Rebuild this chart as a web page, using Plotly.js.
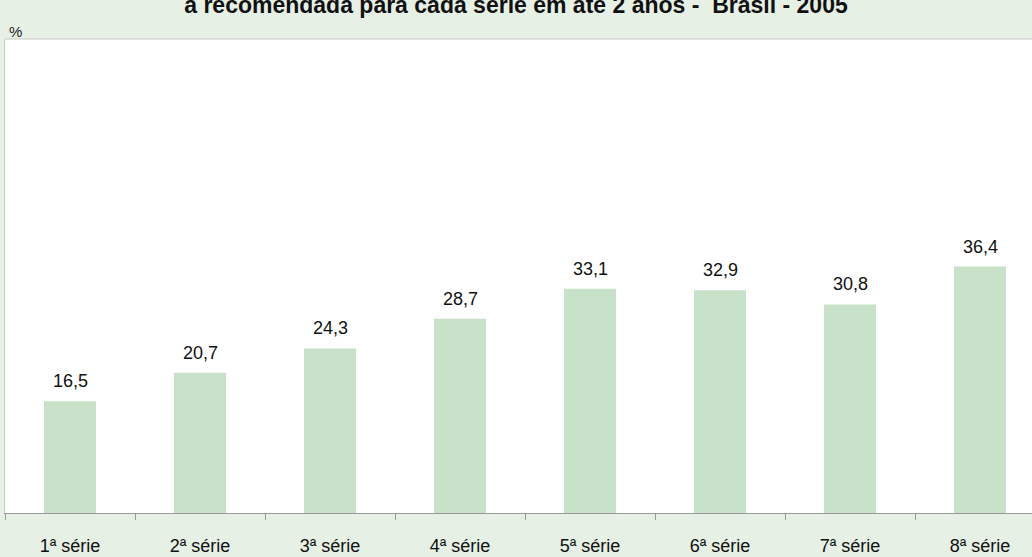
<!DOCTYPE html>
<html><head><meta charset="utf-8">
<script src="https://cdn.plot.ly/plotly-3.0.1.min.js"></script>
<style>html,body{margin:0;padding:0;overflow:hidden;background:#e6f0e5;width:1032px;height:557px}#c{width:1050px;height:557px}</style>
</head><body><div id="c"></div>
<script>
const categories = ["1ª série","2ª série","3ª série","4ª série","5ª série","6ª série","7ª série","8ª série"];
const values = [16.5, 20.7, 24.3, 28.7, 33.1, 32.9, 30.8, 36.4];
const labels = ["16,5","20,7","24,3","28,7","33,1","32,9","30,8","36,4"];
const titleText = "a recomendada para cada série em até 2 anos -  Brasil - 2005";

const trace = {type:'bar', x:categories, y:values, width:0.4,
  marker:{color:'#c8e2ca'}, hoverinfo:'none'};

const ann = categories.map((c,i)=>({x:c, y:values[i], text:labels[i], showarrow:false,
  yanchor:'bottom', yshift:8, font:{family:'Liberation Sans, Arial, sans-serif', size:18, color:'#111'}}));
ann.push({xref:'paper', yref:'paper', x:0.002, y:1, xanchor:'left', yanchor:'bottom', yshift:-3,
  text:'%', showarrow:false, font:{family:'Liberation Sans, Arial, sans-serif', size:15, color:'#222'}});

const layout = {
  width:1050, height:557,
  margin:{l:5, r:5, t:39, b:44},
  paper_bgcolor:'#e6f0e5', plot_bgcolor:'#ffffff',
  title:{text:titleText, x:0.4914, xanchor:'center', y:1, yref:'container', yanchor:'top', pad:{t:-3},
    font:{family:'Liberation Sans, Arial, sans-serif', size:23, color:'#111', weight:'bold'}},
  showlegend:false,
  bargap:0.6,
  xaxis:{type:'category', tickson:'boundaries', ticks:'outside', ticklen:6, tickcolor:'#999',
    ticklabelstandoff:16,
    showline:true, linecolor:'#999', linewidth:1, showgrid:false, fixedrange:true,
    tickfont:{family:'Liberation Sans, Arial, sans-serif', size:18, color:'#111'}},
  yaxis:{range:[0,70], showticklabels:false, ticks:'', showgrid:false, zeroline:false,
    showline:true, mirror:true, linecolor:'#c8c8c8', linewidth:1, fixedrange:true},
  shapes:[{type:'line', xref:'paper', yref:'paper', x0:0, x1:1, y0:1, y1:1, line:{color:'#c8c8c8', width:1}}],
  annotations:ann
};
Plotly.newPlot('c',[trace],layout,{displayModeBar:false, staticPlot:true});
</script></body></html>
